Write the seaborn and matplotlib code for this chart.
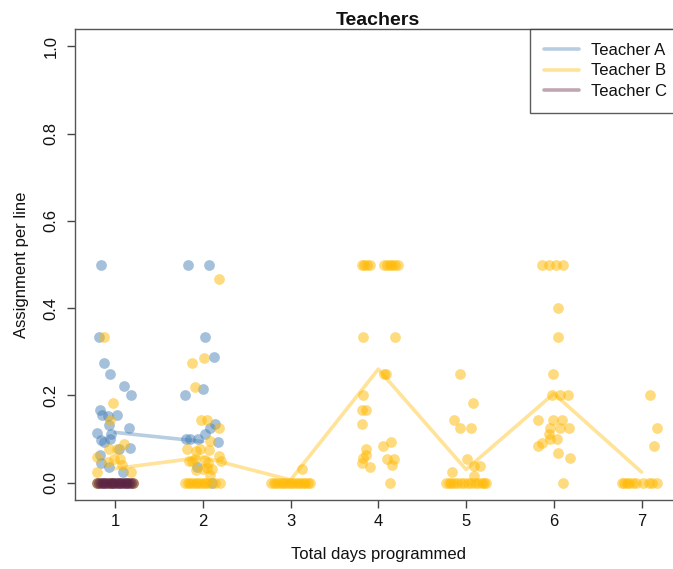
import matplotlib
matplotlib.use("Agg")
import matplotlib.pyplot as plt
from matplotlib.lines import Line2D
import seaborn as sns
import pandas as pd

# ---------------- data ----------------
teachers = ["Teacher A", "Teacher B", "Teacher C"]
colors = {"Teacher A": "#4A82B8", "Teacher B": "#FFB900", "Teacher C": "#5A2341"}

# Teacher A: jittered day positions and assignment-per-line values
a_x = [0.837, 0.82, 0.88, 0.947, 1.106, 1.186, 0.826, 0.852, 0.924, 1.026, 0.93, 0.80,
       0.95, 1.16, 0.84, 0.88, 0.94, 1.17, 1.04, 0.83, 0.837, 0.935, 1.09,
       1.827, 2.07, 2.03, 2.13, 2.0, 1.80, 2.14, 2.08, 2.02, 1.81, 1.85, 1.95, 2.17,
       1.93, 2.10]
a_y = [0.50, 0.333, 0.273, 0.25, 0.222, 0.20, 0.167, 0.154, 0.152, 0.155, 0.131, 0.114,
       0.111, 0.125, 0.098, 0.093, 0.10, 0.079, 0.077, 0.063, 0.045, 0.035, 0.024,
       0.50, 0.50, 0.333, 0.287, 0.215, 0.20, 0.135, 0.125, 0.112, 0.10, 0.10, 0.10, 0.092,
       0.035, 0.0]

# Teacher B
b_x = [0.878, 0.98, 0.943, 0.79, 0.935, 1.02, 1.106, 0.92, 0.99, 1.06, 1.08, 0.80, 1.18,
       0.80, 0.95, 1.20,
       2.18, 1.88, 2.01, 1.91, 1.98, 2.05, 2.18, 2.08, 1.815, 1.92, 1.97, 2.07, 2.18, 1.84,
       1.88, 1.91, 2.03, 2.06, 2.21, 1.92, 2.00, 2.05, 2.10, 2.08,
       1.80, 1.83, 1.86, 1.89, 1.92, 1.95, 1.98, 2.01, 2.04, 2.07, 2.14, 2.20,
       3.13, 2.78, 2.81, 2.84, 2.87, 2.90, 2.93, 2.96, 2.99, 3.02, 3.05, 3.08, 3.11, 3.14,
       3.17, 3.20, 3.22,
       3.81, 3.84, 3.87, 3.90, 4.07, 4.10, 4.13, 4.16, 4.19, 4.22, 3.83, 4.19, 4.06, 4.09,
       3.83, 3.81, 3.86, 3.81, 3.86, 3.86, 3.82, 3.81, 3.90, 4.05, 4.14, 4.10, 4.18, 4.16,
       4.13,
       4.93, 5.08, 4.86, 4.93, 5.06, 5.01, 4.84, 5.09, 5.16, 5.09,
       4.77, 4.80, 4.83, 4.86, 4.90, 4.94, 4.98, 5.02, 5.06, 5.10, 5.14, 5.18, 5.21, 5.23,
       5.87, 5.94, 6.02, 6.10, 6.05, 6.05, 5.99, 5.975, 6.07, 6.16, 5.82, 5.99, 6.09, 5.96,
       6.07, 6.17, 5.95, 5.96, 6.04, 5.87, 5.82, 6.05, 6.19, 6.11,
       7.10, 7.17, 7.14, 6.78, 6.80, 6.83, 6.86, 6.90, 6.94, 7.02, 7.08, 7.12, 7.18]
b_y = [0.333, 0.182, 0.144, 0.058, 0.077, 0.077, 0.089, 0.048, 0.053, 0.053, 0.04, 0.025,
       0.025, 0.0, 0.0, 0.0,
       0.467, 0.273, 0.286, 0.22, 0.144, 0.144, 0.125, 0.096, 0.078, 0.073, 0.077, 0.074,
       0.06, 0.05, 0.05, 0.053, 0.052, 0.045, 0.05, 0.028, 0.032, 0.033, 0.03, 0.017,
       0.0, 0.0, 0.0, 0.0, 0.0, 0.0, 0.0, 0.0, 0.0, 0.0, 0.0, 0.0,
       0.031, 0.0, 0.0, 0.0, 0.0, 0.0, 0.0, 0.0, 0.0, 0.0, 0.0, 0.0, 0.0, 0.0, 0.0, 0.0, 0.0,
       0.5, 0.5, 0.5, 0.5, 0.5, 0.5, 0.5, 0.5, 0.5, 0.5, 0.333, 0.333, 0.25, 0.25,
       0.20, 0.167, 0.167, 0.134, 0.078, 0.064, 0.057, 0.045, 0.036, 0.083, 0.092, 0.054,
       0.055, 0.041, 0.0,
       0.25, 0.182, 0.143, 0.125, 0.125, 0.054, 0.024, 0.037, 0.039, 0.015,
       0.0, 0.0, 0.0, 0.0, 0.0, 0.0, 0.0, 0.0, 0.0, 0.0, 0.0, 0.0, 0.0, 0.0,
       0.5, 0.5, 0.5, 0.5, 0.40, 0.333, 0.25, 0.20, 0.20, 0.20, 0.143, 0.143, 0.143, 0.125,
       0.125, 0.125, 0.111, 0.10, 0.10, 0.091, 0.083, 0.068, 0.056, 0.0,
       0.20, 0.125, 0.083, 0.0, 0.0, 0.0, 0.0, 0.0, 0.0, 0.0, 0.0, 0.0, 0.0]

# Teacher C
c_x = [0.80, 0.82, 0.84, 0.86, 0.88, 0.90, 0.92, 0.94, 0.96, 0.98, 1.00, 1.02, 1.04,
       1.06, 1.08, 1.10, 1.12, 1.14, 1.16, 1.18, 1.20]
c_y = [0.0] * 21

# mean lines per teacher
a_days, a_mean = [1, 2], [0.115, 0.094]
b_days, b_mean = [1, 2, 3, 4, 5, 6, 7], [0.032, 0.058, 0.006, 0.26, 0.03, 0.204, 0.024]
c_days, c_mean = [1], [0.0]

x_ticks = [1, 2, 3, 4, 5, 6, 7]
y_ticks = [0.0, 0.2, 0.4, 0.6, 0.8, 1.0]
y_tick_labels = ["0.0", "0.2", "0.4", "0.6", "0.8", "1.0"]

# ---------------- tables ----------------
pts = pd.concat([
    pd.DataFrame({"x": a_x, "y": a_y, "teacher": "Teacher A"}),
    pd.DataFrame({"x": b_x, "y": b_y, "teacher": "Teacher B"}),
    pd.DataFrame({"x": c_x, "y": c_y, "teacher": "Teacher C"}),
], ignore_index=True)
means = pd.concat([
    pd.DataFrame({"day": a_days, "mean": a_mean, "teacher": "Teacher A"}),
    pd.DataFrame({"day": b_days, "mean": b_mean, "teacher": "Teacher B"}),
    pd.DataFrame({"day": c_days, "mean": c_mean, "teacher": "Teacher C"}),
], ignore_index=True)

# ---------------- plot ----------------
sns.set_theme(style="white")
plt.rcParams["font.family"] = ["Liberation Sans", "DejaVu Sans"]

W, H = 673, 569
fig = plt.figure(figsize=(W / 100, H / 100), dpi=100)
x0, x1, ytop, ybot = 75, 681.6, 29, 500
ax = fig.add_axes([x0 / W, 1 - ybot / H, (x1 - x0) / W, (ybot - ytop) / H])

for t in teachers:
    sub = pts[pts.teacher == t]
    sns.scatterplot(data=sub, x="x", y="y", color=colors[t], alpha=0.5, s=60,
                    linewidth=0, ax=ax, legend=False, zorder=2)
for t in teachers:
    sub = means[means.teacher == t]
    if len(sub) > 1:
        sns.lineplot(data=sub, x="day", y="mean", color=colors[t], alpha=0.4,
                     linewidth=2.6, estimator=None, ax=ax, legend=False, zorder=3)

ax.set_xlim(0.544, 7.456)
ax.set_ylim(-0.04, 1.04)
ax.set_xticks(x_ticks)
ax.set_xticklabels([str(v) for v in x_ticks])
ax.set_yticks(y_ticks)
ax.set_yticklabels(y_tick_labels, rotation=90, va="center")
ax.tick_params(axis="both", direction="out", length=6, width=1, color="#444444",
               labelsize=12, labelcolor="#111111", bottom=True, left=True)
ax.tick_params(axis="x", pad=4)
ax.tick_params(axis="y", pad=6)
for side in ["left", "bottom", "top", "right"]:
    ax.spines[side].set_visible(True)
    ax.spines[side].set_color("#555555")
    ax.spines[side].set_linewidth(1.0)
ax.grid(False)

ax.set_xlabel("Total days programmed", fontsize=12, color="#111111", labelpad=13)
ax.set_ylabel("Assignment per line", fontsize=12, color="#111111", labelpad=10)
ax.set_title("Teachers", fontsize=14, fontweight="bold", color="#111111", pad=3)

handles = [Line2D([0], [0], color=colors[t], alpha=0.4, linewidth=2.6) for t in teachers]
leg = ax.legend(handles, teachers, loc="upper right", bbox_to_anchor=(1, 1),
                borderaxespad=0, frameon=True, fancybox=False, fontsize=12,
                handlelength=2.1, handletextpad=0.75, labelspacing=0.32,
                borderpad=0.85, edgecolor="#333333")
leg.get_frame().set_linewidth(1.0)
for txt in leg.get_texts():
    txt.set_color("#111111")

fig.savefig("out.png", dpi=100)
